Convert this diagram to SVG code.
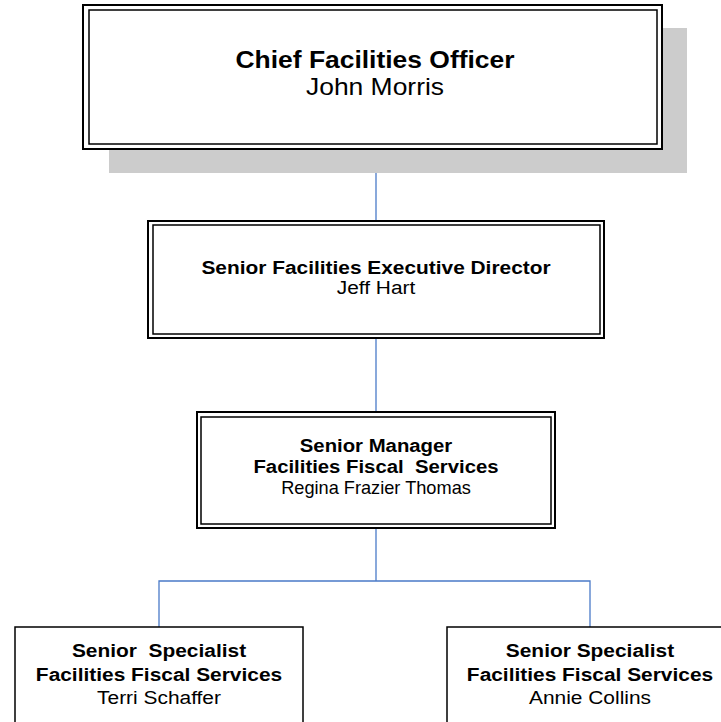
<svg xmlns="http://www.w3.org/2000/svg" width="721" height="722" viewBox="0 0 721 722">
<style>
.outer{fill:#fff;stroke:#000;stroke-width:2}
.inner{fill:none;stroke:#000;stroke-width:1.5}
.single{fill:#fff;stroke:#000;stroke-width:1.5}
.conn{fill:none;stroke:#4a7ac8;stroke-width:1.3}
text{font-family:"Liberation Sans",Arial,sans-serif;text-anchor:middle;fill:#000}
.b{font-weight:bold}
</style>
<rect width="721" height="722" fill="#fff"/>
<g id="connectors">
<line class="conn" x1="376" y1="149" x2="376" y2="221"/>
<line class="conn" x1="376" y1="338" x2="376" y2="412"/>
<polyline class="conn" points="376,528 376,581"/>
<polyline class="conn" points="159,627 159,581 590,581 590,627"/>
</g>
<g id="n-cfo">
<rect x="109" y="28" width="578" height="145" fill="#cccccc"/>
<rect class="outer" x="83" y="5" width="579" height="144"/>
<rect class="inner" x="89" y="10" width="568" height="134"/>
<g transform="translate(375,0) scale(1.15,1)">
<text class="b" x="0" y="68" font-size="23">Chief Facilities Officer</text>
<text x="0" y="95" font-size="23">John Morris</text>
</g>
</g>
<g id="n-sfed">
<rect class="outer" x="148" y="221" width="456" height="117"/>
<rect class="inner" x="153" y="225" width="447" height="109"/>
<g transform="translate(376,0) scale(1.16,1)">
<text class="b" x="0" y="274" font-size="18">Senior Facilities Executive Director</text>
<text x="0" y="294" font-size="18">Jeff Hart</text>
</g>
</g>
<g id="n-sm">
<rect class="outer" x="197" y="412" width="358" height="116"/>
<rect class="inner" x="201" y="417" width="350" height="107"/>
<g transform="translate(376,0) scale(1.13,1)">
<text class="b" x="0" y="452" font-size="18">Senior Manager</text>
<text class="b" x="0" y="473" font-size="18" xml:space="preserve">Facilities Fiscal  Services</text>
</g>
<text x="376" y="494" font-size="18.2">Regina Frazier Thomas</text>
</g>
<g id="n-ts">
<rect class="single" x="15" y="627" width="288" height="110"/>
<g transform="translate(159,0) scale(1.1,1)">
<text class="b" x="0" y="657" font-size="19" xml:space="preserve">Senior  Specialist</text>
<text class="b" x="0" y="681" font-size="19">Facilities Fiscal Services</text>
<text x="0" y="704" font-size="19">Terri Schaffer</text>
</g>
</g>
<g id="n-ac">
<rect class="single" x="447" y="627" width="288" height="110"/>
<g transform="translate(590,0) scale(1.1,1)">
<text class="b" x="0" y="657" font-size="19">Senior Specialist</text>
<text class="b" x="0" y="681" font-size="19">Facilities Fiscal Services</text>
<text x="0" y="704" font-size="19">Annie Collins</text>
</g>
</g>
</svg>
